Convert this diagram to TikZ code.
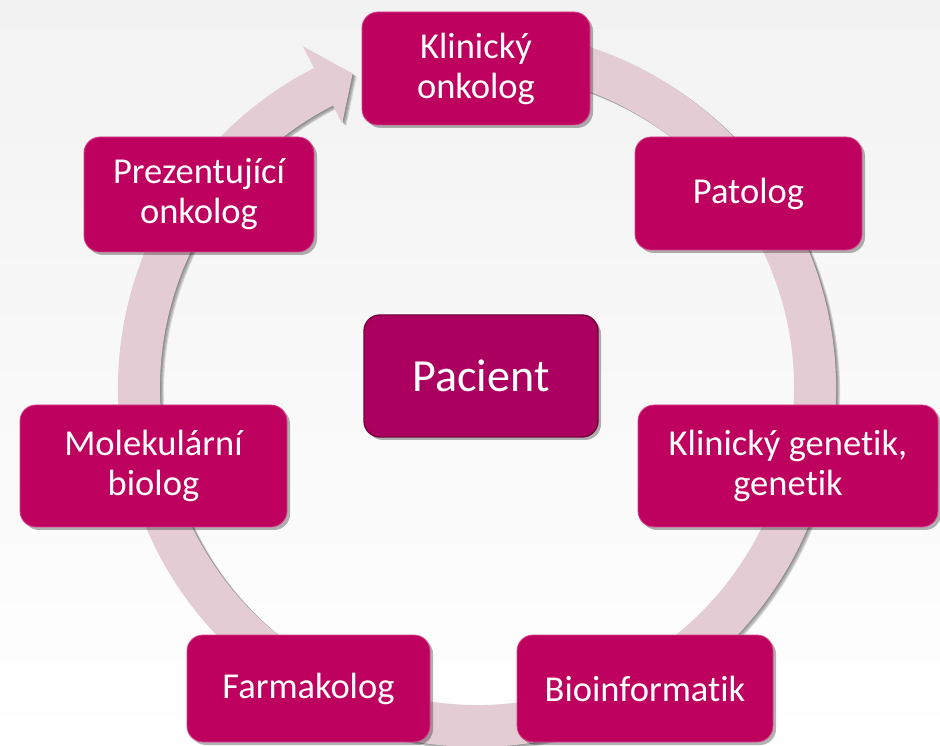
\documentclass[tikz,border=0pt]{standalone}
\usepackage{fontspec}
\setmainfont[Ligatures=NoCommon]{Carlito}
\usetikzlibrary{shadows}

\definecolor{berry}{RGB}{190,0,94}
\definecolor{berryedge}{RGB}{214,70,140}
\definecolor{patientfill}{RGB}{172,0,96}
\definecolor{patientedge}{RGB}{118,0,62}
\definecolor{ringpink}{RGB}{228,204,212}
\definecolor{bgtop}{RGB}{242,242,242}

% Outline of the circular arrow (centre at the origin of the enclosing scope)
\def\ringpath{(100:359) arc[start angle=100, end angle=-243, radius=359]
  -- (-243:383) -- (-248.4:338) -- (-243:297) -- (-243:317)
  arc[start angle=-243, end angle=100, radius=317] -- cycle}

\tikzset{
  rolebox/.style={rectangle, rounded corners=16pt, fill=berry, draw=berryedge,
    line width=0.8pt, text=white, align=center, inner sep=0pt,
    font=\fontsize{36.5}{40}\selectfont,
    drop shadow={shadow xshift=3pt, shadow yshift=-3pt, opacity=0.3, fill=black}},
  patientbox/.style={rolebox, fill=patientfill, draw=patientedge, line width=1.4pt,
    font=\fontsize{46}{50}\selectfont},
}

\begin{document}
\begin{tikzpicture}[x=1pt, y=1pt]
  \useasboundingbox (0,0) rectangle (940,745);
  % background
  \shade[top color=bgtop, bottom color=white, middle color=bgtop!50] (0,0) rectangle (940,745);

  % circular arrow with a soft shadow
  \begin{scope}[shift={(477,357)}]
    \foreach \dx/\dy in {1/-0.5, 2/-1.5, 3/-2.5, 4/-3}
      \fill[black, opacity=0.13, shift={(\dx,\dy)}] \ringpath;
    \fill[ringpink] \ringpath;
  \end{scope}

  % roles around the patient
  \node[rolebox, minimum width=228, minimum height=113] (ko) at (476,676.5) {Klinický\\onkolog};
  \node[rolebox, minimum width=227, minimum height=113] (pat) at (748.5,551.5) {Patolog};
  \node[rolebox, minimum width=230, minimum height=115] (prez) at (199,550.5) {Prezentující\\onkolog};
  \node[rolebox, minimum width=267, minimum height=122] (mol) at (153.5,279) {Molekulární\\biolog};
  \node[rolebox, minimum width=300, minimum height=122] (gen) at (788,279) {Klinický genetik,\\genetik};
  \node[rolebox, minimum width=243, minimum height=107] (farm) at (308.5,56.5) {Farmakolog};
  \node[rolebox, minimum width=256, minimum height=107] (bio) at (645,56.5) {Bioinformatik};

  % patient in the centre
  \node[patientbox, minimum width=234, minimum height=122] (pac) at (481,369) {Pacient};
\end{tikzpicture}
\end{document}
